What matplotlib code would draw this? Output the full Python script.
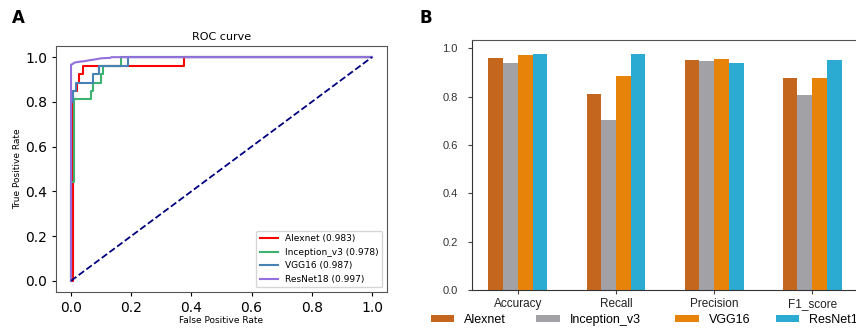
import numpy as np
import matplotlib.pyplot as plt
from matplotlib.patches import Patch

# ROC curves
alex_fpr = [0.0, 0.008, 0.008, 0.019, 0.019, 0.026, 0.026, 0.041, 0.041, 0.374, 0.374, 1.0]
alex_tpr = [0.0, 0.0, 0.849, 0.849, 0.886, 0.886, 0.923, 0.923, 0.96, 0.96, 1.0, 1.0]

incep_fpr = [0.0, 0.0, 0.011, 0.011, 0.065, 0.065, 0.074, 0.074, 0.098, 0.098, 0.107, 0.107, 0.165, 0.165, 1.0]
incep_tpr = [0.0, 0.44, 0.44, 0.812, 0.812, 0.849, 0.849, 0.886, 0.886, 0.923, 0.923, 0.96, 0.96, 1.0, 1.0]

vgg_fpr = [0.0, 0.0, 0.008, 0.008, 0.015, 0.015, 0.074, 0.074, 0.093, 0.093, 0.189, 0.189, 1.0]
vgg_tpr = [0.0, 0.80, 0.80, 0.849, 0.849, 0.886, 0.886, 0.923, 0.923, 0.96, 0.96, 1.0, 1.0]

res_fpr = [0.0, 0.0, 0.005, 0.01, 0.02, 0.03, 0.045, 0.06, 0.08, 0.1, 0.13, 0.135, 1.0]
res_tpr = [0.0, 0.967, 0.969, 0.975, 0.978, 0.98, 0.982, 0.986, 0.99, 0.995, 0.997, 1.0, 1.0]

roc_names = ['Alexnet (0.983)', 'Inception_v3 (0.978)', 'VGG16 (0.987)', 'ResNet18 (0.997)']

# bar chart metrics
metrics = ['Accuracy', 'Recall', 'Precision', 'F1_score']
models = ['Alexnet', 'Inception_v3', 'VGG16', 'ResNet18']
alexnet = [0.959, 0.812, 0.954, 0.879]
inception = [0.938, 0.702, 0.949, 0.808]
vgg16 = [0.972, 0.887, 0.957, 0.879]
resnet18 = [0.979, 0.977, 0.938, 0.954]

fig = plt.figure(figsize=(8.56, 3.28), dpi=100)

# ---- panel A ----
ax1 = fig.add_axes([0.0654, 0.1098, 0.3867, 0.75])
ax1.plot(alex_fpr, alex_tpr, color='red', lw=1.5, label=roc_names[0])
ax1.plot(incep_fpr, incep_tpr, color='mediumseagreen', lw=1.5, label=roc_names[1])
ax1.plot(vgg_fpr, vgg_tpr, color='steelblue', lw=1.5, label=roc_names[2])
ax1.plot(res_fpr, res_tpr, color='mediumpurple', lw=1.5, label=roc_names[3])
ax1.plot([0, 1], [0, 1], color='navy', lw=1.3, linestyle='--')
ax1.set_xlim(-0.05, 1.05)
ax1.set_ylim(-0.05, 1.05)
ax1.set_xticks(np.arange(0, 1.01, 0.2))
ax1.set_yticks(np.arange(0, 1.01, 0.2))
ax1.tick_params(labelsize=10, length=3)
ax1.set_xlabel('False Positive Rate', fontsize=6.5, labelpad=1)
ax1.set_ylabel('True Positive Rate', fontsize=6.5, labelpad=2)
ax1.set_title('ROC curve', fontsize=8, pad=4)
ax1.legend(loc='lower right', fontsize=6.5)
for s in ax1.spines.values():
    s.set_color('#555555')

# ---- panel B ----
x = np.arange(len(metrics))
w = 0.15
colors = ['#C4661D', '#A2A2A6', '#E8830A', '#2BABD2']
ax2 = fig.add_axes([0.5511, 0.1159, 0.4665, 0.7622])
for i, vals in enumerate([alexnet, inception, vgg16, resnet18]):
    ax2.bar(x + (i - 1.5) * w, vals, width=w, color=colors[i], label=models[i])
ax2.set_xlim(-0.47, 3.6)
ax2.set_ylim(0, 1.035)
ax2.set_xticks(x)
ax2.set_xticklabels(metrics, family='Liberation Sans', fontsize=8.5, color='#222222')
ax2.set_yticks(np.arange(0, 1.01, 0.2))
ax2.set_yticklabels(['%.1f' % v for v in np.arange(0, 1.01, 0.2)],
                    family='Liberation Sans', fontsize=8, color='#333333')
ax2.tick_params(axis='y', length=3, color='#444444', pad=7)
ax2.tick_params(axis='x', length=3, color='#444444', pad=3)
ax2.spines['right'].set_visible(False)
ax2.spines['left'].set_color('#333333')
ax2.spines['bottom'].set_color('#333333')
ax2.spines['top'].set_color('#555555')

# legend under panel B, entries placed one by one like the picture
leg_x = [0.503, 0.626, 0.789, 0.906]
for i in range(4):
    h = Patch(facecolor=colors[i])
    fig.legend(handles=[h], labels=[models[i]], loc='center left',
               bbox_to_anchor=(leg_x[i], 0.024), frameon=False,
               prop={'family': 'Liberation Sans', 'size': 9},
               handlelength=1.9, handleheight=0.5, handletextpad=0.8,
               borderpad=0, borderaxespad=0)

fig.text(0.014, 0.93, 'A', fontsize=12, fontweight='bold')
fig.text(0.49, 0.93, 'B', fontsize=12, fontweight='bold')

plt.savefig('out.png', dpi=100)
